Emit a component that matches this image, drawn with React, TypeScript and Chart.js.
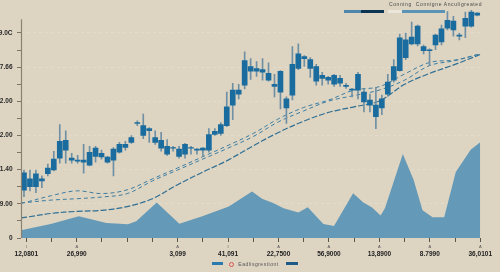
import React, { useEffect, useRef } from "react";
import { Chart, registerables } from "chart.js";

Chart.register(...registerables);

// ---- data ----
const candleLabels = Array.from({ length: 77 }, (_, i) => `T${i + 1}`);

const candleOpen = [
  1.40, 1.50, 1.50, 1.67, 1.88, 1.99, 2.34, 2.57, 2.28, 2.25,
  2.22, 2.13, 2.39, 2.37, 2.22, 2.28, 2.51, 2.65, 2.80, 3.35,
  3.00, 3.14, 2.80, 2.63, 2.45, 2.63, 2.39, 2.45, 2.63, 2.57,
  2.57, 2.57, 3.03, 3.06, 3.29, 3.89, 4.21, 4.47, 4.88, 4.88,
  4.85, 4.62, 4.44, 4.27, 3.81, 4.18, 4.96, 5.25, 4.96, 4.59,
  4.67, 4.62, 4.50, 4.53, 4.44, 4.33, 4.33, 3.98, 3.89, 3.55,
  3.81, 4.21, 4.62, 4.90, 5.28, 5.68, 5.68, 5.48, 5.48, 5.65,
  5.74, 6.14, 6.09, 5.91, 6.20, 6.20, 6.52,
];
const candleClose = [
  1.91, 1.73, 1.88, 1.73, 2.05, 2.31, 2.83, 2.86, 2.34, 2.28,
  2.28, 2.51, 2.63, 2.48, 2.37, 2.60, 2.74, 2.74, 2.94, 3.38,
  3.29, 3.20, 2.94, 2.86, 2.68, 2.65, 2.60, 2.74, 2.65, 2.60,
  2.63, 3.03, 3.12, 3.32, 3.84, 4.33, 4.33, 5.19, 5.02, 4.96,
  4.93, 4.82, 4.50, 4.88, 4.07, 5.08, 5.39, 5.31, 5.22, 5.02,
  4.76, 4.70, 4.76, 4.67, 4.47, 4.36, 4.79, 4.27, 4.04, 3.89,
  4.07, 4.56, 5.02, 5.86, 5.80, 5.88, 6.20, 5.60, 5.51, 5.94,
  6.12, 6.37, 6.35, 5.94, 6.43, 6.61, 6.58,
];
const candleHigh = [
  1.99, 1.99, 1.99, 1.82, 2.16, 2.54, 3.32, 3.14, 2.48, 2.42,
  2.74, 2.68, 2.68, 2.57, 2.39, 2.65, 2.80, 2.83, 3.00, 3.43,
  3.63, 3.23, 3.14, 3.09, 2.88, 2.68, 2.68, 2.77, 2.68, 2.62,
  2.65, 3.20, 3.20, 3.38, 4.27, 4.53, 4.50, 5.45, 5.25, 5.16,
  5.25, 5.13, 4.79, 4.90, 4.13, 5.60, 5.68, 5.34, 5.28, 5.08,
  4.85, 4.73, 4.79, 4.76, 4.53, 4.38, 4.85, 4.36, 4.21, 4.41,
  4.18, 4.79, 5.22, 5.97, 6.00, 6.32, 6.23, 5.65, 5.54, 5.97,
  6.23, 6.63, 6.49, 6.00, 6.61, 6.66, 6.60,
];
const candleLow = [
  1.21, 1.38, 1.33, 1.47, 1.82, 1.96, 2.19, 2.19, 2.19, 2.19,
  1.90, 2.11, 2.22, 2.31, 2.19, 1.82, 2.48, 2.57, 2.77, 3.29,
  2.91, 2.80, 2.74, 2.54, 2.42, 2.54, 2.34, 2.34, 2.45, 2.45,
  2.39, 2.51, 3.00, 3.00, 3.26, 3.46, 4.07, 4.36, 4.64, 4.73,
  4.62, 4.59, 4.13, 3.78, 3.35, 4.04, 4.93, 5.02, 4.70, 4.47,
  4.47, 4.50, 4.44, 4.44, 4.38, 4.13, 4.07, 3.69, 3.69, 3.20,
  3.61, 4.15, 4.56, 4.88, 5.22, 5.65, 5.62, 5.39, 5.05, 5.51,
  5.65, 6.09, 5.91, 5.80, 5.86, 6.17, 6.50,
];

const lineX = [-0.21, 0, 1, 2, 3, 4, 5, 6, 7, 8, 9, 10, 11, 12, 13, 14, 15, 16, 17, 18];
const maFast = [1.02, 1.05, 1.24, 1.38, 1.30, 1.41, 1.73, 2.05, 2.38, 2.71, 3.06, 3.49, 3.82, 4.04, 4.33, 4.43, 4.80, 5.14, 5.21, 5.39];
const maMid = [1.02, 1.04, 1.11, 1.15, 1.20, 1.30, 1.67, 1.99, 2.31, 2.63, 2.97, 3.40, 3.72, 4.01, 4.17, 4.33, 4.62, 5.05, 5.19, 5.39];
const maSlow = [0.59, 0.61, 0.72, 0.78, 0.81, 0.92, 1.15, 1.56, 1.93, 2.28, 2.70, 3.09, 3.42, 3.68, 3.84, 4.01, 4.50, 4.82, 5.08, 5.37];

const areaX = [-0.21, 1.01, 2.08, 3.18, 4.03, 4.36, 5.17, 6.07, 6.98, 8.03, 8.95, 9.35, 9.81, 10.2, 10.79, 11.16, 11.78, 12.2, 12.96, 13.35, 13.71, 14.05, 14.22, 14.93, 15.36, 15.71, 16.11, 16.57, 17.03, 17.62, 18.0];
const areaY = [0.23, 0.42, 0.64, 0.44, 0.40, 0.49, 1.04, 0.42, 0.64, 0.92, 1.36, 1.15, 1.02, 0.87, 0.75, 0.90, 0.41, 0.35, 1.31, 1.05, 0.89, 0.66, 0.87, 2.46, 1.70, 0.81, 0.61, 0.61, 1.93, 2.58, 2.80];

const xTickLabels = ["12,0801", "", "26,990", "", "", "", "3,099", "", "41,091", "", "22,7500", "", "56,9000", "", "13,8900", "", "8.7990", "", "36,0101"];
const xTickGlyphs = ["I", "", "A", "", "", "", "A", "", "I", "", "A", "", "A", "", "A", "", "A", "", "A"];
const yTickValues = [0, 0.5, 1, 1.5, 2, 2.5, 3, 3.5, 4, 4.5, 5, 5.5, 6];
const yTickLabels = ["0", "9.00", "1.40", "2.00", "2.00", "7.66", "9.0C"];

const topLegendText = "Conning  Connigne Anculigreated";
const bottomLegendText = "Eadlisgrestiont";

const FONT = "'Liberation Sans', Arial, sans-serif";
const BG = "#ddd4c2";

export default function App() {
  const ref = useRef<HTMLCanvasElement | null>(null);

  useEffect(() => {
    if (!ref.current) return;
    const decor = {
      id: "decor",
      afterDraw(chart: any) {
        const ctx = chart.ctx;
        const xs = chart.scales.x;
        const ys = chart.scales.y;
        const area = chart.chartArea;
        ctx.save();
        ctx.strokeStyle = "#8a8171";
        ctx.lineWidth = 1.2;
        const left = Math.round(area.left) + 0.5;
        ctx.beginPath();
        ctx.moveTo(left, ys.getPixelForValue(6.4));
        ctx.lineTo(left, area.bottom);
        ctx.stroke();
        ctx.font = `4px ${FONT}`;
        ctx.fillStyle = "#555";
        ctx.textAlign = "center";
        ctx.textBaseline = "middle";
        xs.ticks.forEach((t: any, i: number) => {
          const g = xTickGlyphs[i];
          if (g) ctx.fillText(g, xs.getPixelForValue(t.value), area.bottom + 8.5);
        });
        ctx.restore();
      },
    };

    const chart = new Chart(ref.current, {
      type: "bar",
      data: {
        labels: candleLabels,
        datasets: [
          {
            type: "bar",
            label: "body",
            xAxisID: "xc",
            data: candleOpen.map((o, i) => [o, candleClose[i]]),
            backgroundColor: "#1b6c9e",
            borderWidth: 0,
            barThickness: 5,
            grouped: false,
            order: 1,
          } as any,
          {
            type: "bar",
            label: "wick",
            xAxisID: "xc",
            data: candleLow.map((l, i) => [l, candleHigh[i]]),
            backgroundColor: "#6f90a4",
            borderWidth: 0,
            barThickness: 1,
            grouped: false,
            order: 2,
          } as any,
          {
            type: "line",
            label: "fast",
            xAxisID: "x",
            data: lineX.map((x, i) => ({ x, y: maFast[i] })),
            borderColor: "#3d7ea2",
            borderWidth: 1,
            borderDash: [4, 3],
            pointRadius: 0,
            tension: 0.35,
            fill: false,
            order: 3,
          } as any,
          {
            type: "line",
            label: "mid",
            xAxisID: "x",
            data: lineX.map((x, i) => ({ x, y: maMid[i] })),
            borderColor: "#3d7ea2",
            borderWidth: 1,
            borderDash: [4, 3],
            pointRadius: 0,
            tension: 0.35,
            fill: false,
            order: 3,
          } as any,
          {
            type: "line",
            label: "slow",
            xAxisID: "x",
            data: lineX.map((x, i) => ({ x, y: maSlow[i] })),
            borderColor: "#2f6f94",
            borderWidth: 1.2,
            borderDash: [6, 2],
            pointRadius: 0,
            tension: 0.35,
            fill: false,
            order: 3,
          } as any,
          {
            type: "line",
            label: "volume",
            xAxisID: "x",
            data: areaX.map((x, i) => ({ x, y: areaY[i] })),
            borderColor: "#6499b7",
            borderWidth: 0,
            backgroundColor: "#6499b7",
            pointRadius: 0,
            tension: 0,
            fill: "origin",
            order: 4,
          } as any,
        ],
      },
      options: {
        responsive: false,
        animation: false,
        devicePixelRatio: 1,
        layout: { padding: { top: 5, right: 16, left: 0, bottom: 0 } },
        plugins: { legend: { display: false }, tooltip: { enabled: false } },
        scales: {
          xc: {
            type: "category",
            display: false,
            offset: true,
            grid: { offset: true, display: false },
          },
          x: {
            type: "linear",
            position: "bottom",
            min: -0.21,
            max: 18,
            offset: false,
            afterBuildTicks: (scale: any) => {
              scale.ticks = xTickLabels.map((_, i) => ({ value: i }));
            },
            afterFit: (scale: any) => {
              scale.height = 34;
            },
            grid: {
              offset: false,
              drawOnChartArea: false,
              drawTicks: true,
              tickLength: 4,
              tickColor: "#5a5348",
              tickWidth: 1,
            },
            border: { display: false },
            ticks: {
              padding: 8,
              maxRotation: 0,
              autoSkip: false,
              color: "#222",
              font: { family: FONT, size: 6.5, weight: "bold" },
              callback: (_v: any, i: number) => xTickLabels[i],
            },
          },
          y: {
            type: "linear",
            min: 0,
            max: 6.72,
            afterBuildTicks: (scale: any) => {
              scale.ticks = yTickValues.map((v) => ({ value: v }));
            },
            afterFit: (scale: any) => {
              scale.width = 21;
            },
            grid: {
              drawTicks: true,
              tickLength: 4,
              tickColor: "#7d7466",
              color: (c: any) =>
                c.tick && Number.isInteger(c.tick.value) && c.tick.value > 0 ? "#e3dbcc" : "rgba(0,0,0,0)",
              lineWidth: 1,
            },
            border: { display: false, dash: [3, 3] },
            ticks: {
              padding: 4.5,
              color: "#2a2a2a",
              font: { family: FONT, size: 6.5, weight: "bold" },
              callback: (v: any) => (Number.isInteger(v) ? yTickLabels[v] : ""),
            },
          },
        },
      } as any,
      plugins: [decor],
    });
    return () => chart.destroy();
  }, []);

  const sw = (left: number, width: number, top: number, height: number, color: string) => (
    <div style={{ position: "absolute", left, top, width, height, background: color }} />
  );

  return (
    <div style={{ position: "fixed", left: 0, top: 0, width: 500, height: 272, background: BG, overflow: "hidden" }}>
      <canvas ref={ref} width={500} height={272} style={{ position: "absolute", left: 0, top: 0, width: 500, height: 272 }} />
      <div
        style={{
          position: "absolute", left: 389, top: 1.3, fontSize: 5, lineHeight: "6px", letterSpacing: "0.6px",
          color: "#4b4b4b", whiteSpace: "pre", fontFamily: FONT,
        }}
      >
        {topLegendText}
      </div>
      {sw(344, 17, 9.5, 3.8, "#4d87ad")}
      {sw(361, 23, 9.5, 3.8, "#0c3553")}
      {sw(388, 14, 9.5, 3.8, "#ebe6dc")}
      {sw(402, 43, 9.5, 3.8, "#5b93b7")}
      {sw(212, 11, 261.7, 3.6, "#2b7ab0")}
      <div
        style={{
          position: "absolute", left: 229, top: 261.5, width: 3, height: 3, borderRadius: "50%",
          border: "0.8px solid #d9534f",
        }}
      />
      <div
        style={{
          position: "absolute", left: 238.3, top: 260.5, fontSize: 5, lineHeight: "6px", letterSpacing: "0.5px",
          color: "#555", whiteSpace: "pre", fontFamily: FONT,
        }}
      >
        {bottomLegendText}
      </div>
      {sw(285.7, 12.6, 261.7, 3.6, "#1d5a8a")}
    </div>
  );
}
